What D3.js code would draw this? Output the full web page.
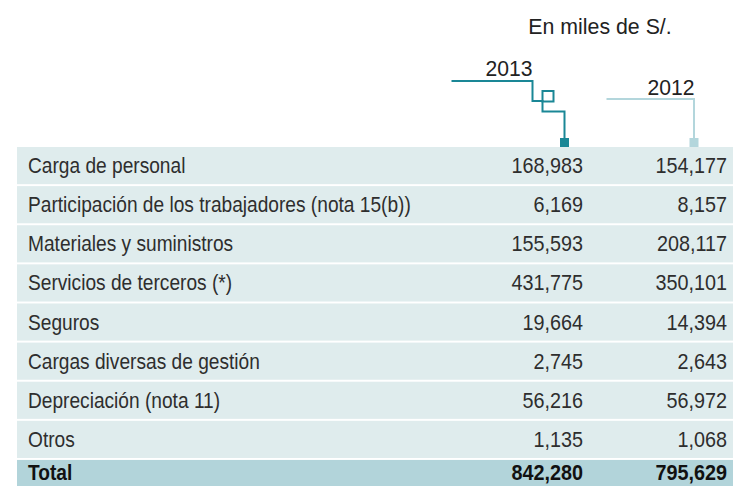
<!DOCTYPE html>
<html>
<head>
<meta charset="utf-8">
<script src="https://cdn.jsdelivr.net/npm/d3@7"></script>
<style>
  html, body { margin: 0; padding: 0; background: #fff; }
  svg { display: block; font-family: "Liberation Sans", Arial, sans-serif; }
</style>
</head>
<body>
<div id="chart"></div>
<script>
    // rows of the table
    var categories = [
        'Carga de personal',
        'Participación de los trabajadores (nota 15(b))',
        'Materiales y suministros',
        'Servicios de terceros (*)',
        'Seguros',
        'Cargas diversas de gestión',
        'Depreciación (nota 11)',
        'Otros'
    ];
    var values2013 = [168983, 6169, 155593, 431775, 19664, 2745, 56216, 1135];
    var values2012 = [154177, 8157, 208117, 350101, 14394, 2643, 56972, 1068];
    var totals = [842280, 795629];
    var years = ['2013', '2012'];
    var unitLabel = 'En miles de S/.';

    var width = 733;
    var height = 488;
    var fmt = d3.format(',');

    var svg = d3.select('#chart').append('svg')
        .attr('width', width)
        .attr('height', height);

    // condensed look: squeeze a regular face horizontally
    function squeeze (sel, x, y, sx) {
        sel.attr('transform', function (d, i) {
            var px = typeof x === 'function' ? x(d, i) : x;
            var py = typeof y === 'function' ? y(d, i) : y;
            return 'translate(' + px + ',' + py + ') scale(' + sx + ',1)';
        });
    }

    var rows = categories.map(function (c, i) {
        return { label: c, a: values2013[i], b: values2012[i], total: false };
    });
    rows.push({ label: 'Total', a: totals[0], b: totals[1], total: true });

    var y = d3.scaleBand()
        .domain(rows.map(function (d) { return d.label; }))
        .range([147, 147 + 38.9 * 9])
        .paddingInner(0.05);

    // right edges of the two value columns
    var x = d3.scaleOrdinal().domain(years).range([583, 727]);

    var g = svg.append('g').attr('class', 'rows');

    var row = g.selectAll('g.row').data(rows).enter().append('g')
        .attr('class', 'row');

    row.append('rect')
        .attr('x', 17)
        .attr('y', function (d) { return y(d.label); })
        .attr('width', width - 17)
        .attr('height', function (d) { return d.total ? 486 - y(d.label) : y.bandwidth(); })
        .style('fill', function (d) { return d.total ? '#b2d4da' : '#dfeced'; });

    function baseline (d) {
        var h = d.total ? 486 - y(d.label) : y.bandwidth();
        return y(d.label) + h / 2 + 7.5;
    }

    function weight (d) { return d.total ? 'bold' : 'normal'; }
    function ink (d) { return d.total ? '#111' : '#2e2e2e'; }

    row.append('text')
        .call(squeeze, 28, baseline, 0.87)
        .style('font-size', '22px')
        .style('font-weight', weight)
        .style('fill', ink)
        .text(function (d) { return d.label; });

    row.append('text')
        .call(squeeze, x('2013'), baseline, 0.9)
        .attr('text-anchor', 'end')
        .style('font-size', '22px')
        .style('font-weight', weight)
        .style('fill', ink)
        .text(function (d) { return fmt(d.a); });

    row.append('text')
        .call(squeeze, x('2012'), baseline, 0.9)
        .attr('text-anchor', 'end')
        .style('font-size', '22px')
        .style('font-weight', weight)
        .style('fill', ink)
        .text(function (d) { return fmt(d.b); });

    // header
    var head = svg.append('g').attr('class', 'header');

    head.append('text')
        .call(squeeze, 600, 34, 0.97)
        .attr('text-anchor', 'middle')
        .style('font-size', '22px')
        .style('fill', '#222')
        .text(unitLabel);

    var dark = '#1a8796';
    var light = '#b3d6dc';

    head.append('text')
        .call(squeeze, 509, 76, 0.96)
        .attr('text-anchor', 'middle')
        .style('font-size', '22px')
        .style('fill', '#222')
        .text(years[0]);

    head.append('path')
        .attr('d', 'M451.5,81H532.5V101H542.5V111.5H564.5V139')
        .style('fill', 'none')
        .style('stroke', dark)
        .style('stroke-width', 2);

    head.append('rect')
        .attr('x', 542.5).attr('y', 91)
        .attr('width', 11).attr('height', 10.5)
        .style('fill', 'none')
        .style('stroke', dark)
        .style('stroke-width', 2);

    head.append('rect')
        .attr('x', 560).attr('y', 138)
        .attr('width', 9).attr('height', 9)
        .style('fill', dark);

    head.append('text')
        .call(squeeze, 671, 95, 0.96)
        .attr('text-anchor', 'middle')
        .style('font-size', '22px')
        .style('fill', '#222')
        .text(years[1]);

    head.append('path')
        .attr('d', 'M606.5,99H694V139')
        .style('fill', 'none')
        .style('stroke', light)
        .style('stroke-width', 2);

    head.append('rect')
        .attr('x', 689.5).attr('y', 138)
        .attr('width', 9).attr('height', 9)
        .style('fill', light);
</script>
</body>
</html>
